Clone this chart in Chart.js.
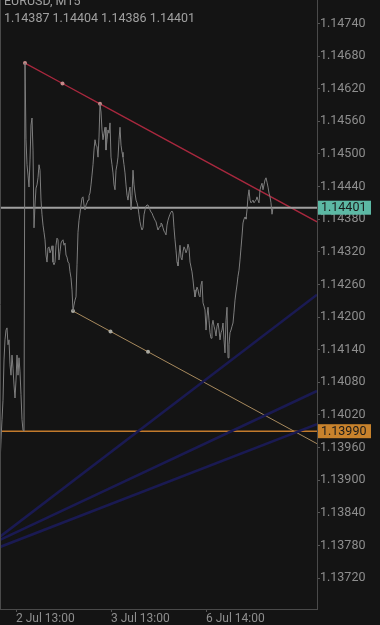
<!DOCTYPE html>
<html>
<head>
  <meta charset="utf-8" />
  <title>EURUSD M15</title>
  <script src="https://cdn.jsdelivr.net/npm/chart.js"></script>
  <style>
    body { margin: 0; background: #141414; font-family: Roboto, Arial, sans-serif; }
    #wrap { position: relative; width: 380px; height: 625px; }
    .hdr { position: absolute; left: 4px; color: #a0a0a0; font-size: 12.5px; white-space: nowrap; }
  </style>
</head>
<body>
  <div id="wrap">
    <canvas id="chart"></canvas>
    <div class="hdr" style="top:-7px;">EURUSD, M15</div>
    <div class="hdr" style="top:10px;" id="ohlc"></div>
  </div>

  <script>
  const symbol = 'EURUSD, M15';
  const lastBar = [1.14387, 1.14404, 1.14386, 1.14401];   // open high low close

  // close prices, one per M15 bar (bar index = position in array)
  const closes = [
    1.13928,1.13974,1.14011,1.14047,1.14121,1.14158,1.14176,1.14180,1.14149,1.14158,
    1.14112,1.14093,1.14130,1.14106,1.14075,1.14051,1.14084,1.14130,1.14093,1.14125,
    1.14099,1.14057,1.14011,1.13992,1.13990,1.14667,1.14526,1.14480,1.14461,1.14439,
    1.14489,1.14553,1.14566,1.14507,1.14364,1.14406,1.14437,1.14443,1.14456,1.14480,
    1.14470,1.14415,1.14388,1.14369,1.14356,1.14342,1.14314,1.14301,1.14327,1.14329,
    1.14318,1.14323,1.14331,1.14301,1.14296,1.14301,1.14332,1.14345,1.14342,1.14305,
    1.14320,1.14336,1.14340,1.14342,1.14332,1.14336,1.14314,1.14310,1.14301,1.14299,
    1.14283,1.14272,1.14250,1.14211,1.14222,1.14231,1.14237,1.14296,1.14356,1.14378,
    1.14391,1.14406,1.14419,1.14421,1.14406,1.14397,1.14406,1.14410,1.14415,1.14423,
    1.14428,1.14443,1.14461,1.14480,1.14507,1.14526,1.14516,1.14513,1.14494,1.14531,
    1.14592,1.14577,1.14544,1.14526,1.14538,1.14549,1.14507,1.14526,1.14544,1.14538,
    1.14557,1.14494,1.14480,1.14465,1.14443,1.14434,1.14470,1.14480,1.14494,1.14526,
    1.14549,1.14516,1.14503,1.14494,1.14480,1.14465,1.14443,1.14424,1.14415,1.14430,
    1.14439,1.14397,1.14424,1.14470,1.14443,1.14428,1.14415,1.14410,1.14402,1.14388,
    1.14375,1.14366,1.14360,1.14364,1.14388,1.14397,1.14404,1.14406,1.14406,1.14402,
    1.14397,1.14393,1.14391,1.14386,1.14382,1.14378,1.14375,1.14367,1.14360,1.14364,
    1.14367,1.14373,1.14371,1.14364,1.14358,1.14355,1.14351,1.14369,1.14378,1.14384,
    1.14389,1.14393,1.14395,1.14391,1.14364,1.14342,1.14323,1.14301,1.14294,1.14314,
    1.14332,1.14309,1.14305,1.14320,1.14329,1.14325,1.14318,1.14323,1.14334,1.14327,
    1.14301,1.14292,1.14283,1.14268,1.14250,1.14237,1.14246,1.14255,1.14250,1.14240,
    1.14237,1.14259,1.14266,1.14226,1.14220,1.14213,1.14176,1.14202,1.14218,1.14194,
    1.14171,1.14161,1.14185,1.14194,1.14183,1.14176,1.14165,1.14183,1.14189,1.14176,
    1.14158,1.14171,1.14176,1.14189,1.14158,1.14134,1.14194,1.14218,1.14125,1.14149,
    1.14171,1.14176,1.14183,1.14189,1.14209,1.14231,1.14246,1.14259,1.14275,1.14286,
    1.14305,1.14327,1.14349,1.14373,1.14380,1.14384,1.14380,1.14397,1.14421,1.14434,
    1.14415,1.14410,1.14412,1.14415,1.14410,1.14413,1.14415,1.14421,1.14415,1.14410,
    1.14434,1.14441,1.14446,1.14434,1.14443,1.14452,1.14456,1.14448,1.14439,1.14428,
    1.14421,1.14410,1.14389,1.14401
  ];

  const xTickIdx = [16, 111, 206];
  const xTickLabels = ['2 Jul 13:00', '3 Jul 13:00', '6 Jul 14:00'];
  const yTicks = [1.13720,1.13780,1.13840,1.13900,1.13960,1.14020,1.14080,1.14140,
                  1.14200,1.14260,1.14320,1.14380,1.14440,1.14500,1.14560,1.14620,1.14680,1.14740];
  const yMin = 1.13663, yMax = 1.14783;
  const xMax = 317;

  // trendline anchors [bar, price]
  const redAnchors = [[25, 1.14667], [100, 1.14592]];
  const tanAnchors = [[73, 1.14211], [148, 1.14136]];
  // fan lines: price at left edge and at right edge
  const fanStart = [1.13796, 1.13790, 1.13777];
  const fanEnd = [1.14241, 1.14064, 1.14003];
  const bidPrice = 1.14401;
  const levelPrice = 1.13990;

  document.getElementById('ohlc').textContent = lastBar.map(v => v.toFixed(5)).join(' ');

  function ray(anchors) {
    const [a, b] = anchors;
    const k = (b[1] - a[1]) / (b[0] - a[0]);
    return [
      {x: a[0], y: a[1]},
      {x: (a[0] + b[0]) / 2, y: (a[1] + b[1]) / 2},
      {x: b[0], y: b[1]},
      {x: xMax, y: a[1] + k * (xMax - a[0])}
    ];
  }

  const lineDs = (data, color, width, extra) => Object.assign({
    data, borderColor: color, borderWidth: width, pointRadius: 0, tension: 0, fill: false
  }, extra || {});

  const datasets = [];
  fanStart.forEach((p, i) => {
    datasets.push(lineDs([{x: 0, y: p}, {x: xMax, y: fanEnd[i]}], '#1a1a52', 2.6));
  });
  datasets.push(lineDs(closes.map((c, i) => ({x: i, y: c})), '#7e7e7e', 1));
  datasets.push(lineDs([{x: 0, y: levelPrice}, {x: xMax, y: levelPrice}], '#c27a2c', 1.5));
  datasets.push(lineDs([{x: 0, y: bidPrice}, {x: xMax, y: bidPrice}], '#a0a0a0', 2));
  datasets.push(lineDs(ray(redAnchors), '#a8283e', 1.3,
    {pointRadius: [2, 2, 2, 0], pointBackgroundColor: '#c48a8a', pointBorderWidth: 0}));
  datasets.push(lineDs(ray(tanAnchors), '#a88a5e', 1,
    {pointRadius: [2, 2, 2, 0], pointBackgroundColor: '#a8a8a0', pointBorderWidth: 0}));

  const overlay = {
    id: 'overlay',
    afterDraw(chart) {
      const ctx = chart.ctx, area = chart.chartArea, y = chart.scales.y;
      ctx.save();
      ctx.strokeStyle = '#4a4a4a';
      ctx.lineWidth = 1;
      ctx.beginPath();
      ctx.moveTo(area.left + 0.5, area.top);
      ctx.lineTo(area.left + 0.5, area.bottom);
      ctx.stroke();
      ctx.font = '12.5px Roboto';
      ctx.textBaseline = 'middle';
      [[bidPrice, '#5cb8a4'], [levelPrice, '#c8822c']].forEach(([p, bg]) => {
        const py = y.getPixelForValue(p);
        ctx.fillStyle = bg;
        ctx.fillRect(area.right + 1, py - 7, 53, 14);
        ctx.fillStyle = '#1a1a1a';
        ctx.fillText(p.toFixed(5), area.right + 4, py + 0.5);
      });
      ctx.restore();
    }
  };

  new Chart(document.getElementById('chart'), {
    type: 'line',
    data: { datasets },
    options: {
      responsive: true,
      maintainAspectRatio: false,
      animation: false,
      events: [],
      layout: { padding: 0, autoPadding: false },
      plugins: { legend: { display: false }, tooltip: { enabled: false } },
      scales: {
        x: {
          type: 'linear', min: 0, max: xMax,
          grid: { drawOnChartArea: false, color: '#555', tickLength: 3 },
          border: { color: '#4a4a4a' },
          ticks: {
            color: '#8e8e8e', font: { family: 'Roboto', size: 12 }, padding: 0,
            align: 'start', maxRotation: 0, autoSkip: false,
            callback: v => xTickLabels[xTickIdx.indexOf(v)] || ''
          },
          afterBuildTicks: s => { s.ticks = xTickIdx.map(v => ({value: v})); },
          afterFit: s => { s.height = 16; s.paddingLeft = 0; s.paddingRight = 0; }
        },
        y: {
          position: 'right', min: yMin, max: yMax,
          grid: { drawOnChartArea: false, color: '#555', tickLength: 3 },
          border: { color: '#4a4a4a' },
          ticks: {
            color: '#8e8e8e', font: { family: 'Roboto', size: 12.5 }, padding: 0,
            crossAlign: 'near', callback: v => v.toFixed(5)
          },
          afterBuildTicks: s => { s.ticks = yTicks.map(v => ({value: v})); },
          afterFit: s => { s.width = 63; s.paddingTop = 0; s.paddingBottom = 0; }
        }
      }
    },
    plugins: [overlay]
  });
  </script>
</body>
</html>
